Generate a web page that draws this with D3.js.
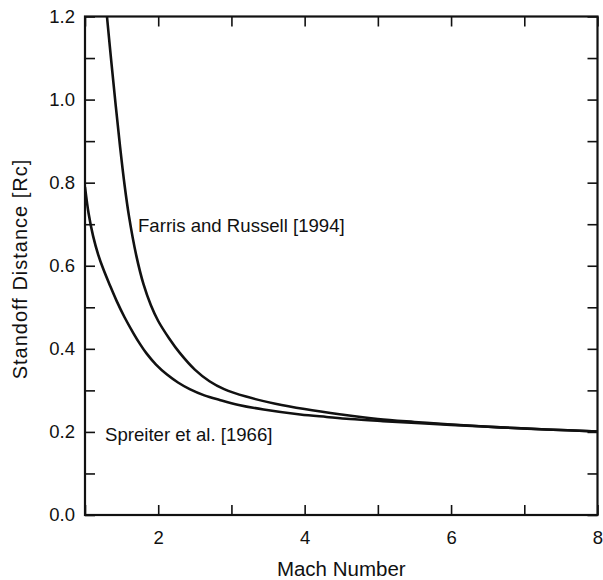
<!DOCTYPE html>
<html>
<head>
<meta charset="utf-8">
<script src="https://cdn.jsdelivr.net/npm/d3@7"></script>
<style>
  body { margin: 0; background: #fff; }
  svg text { font-family: "Liberation Sans", Arial, Helvetica, sans-serif; fill: #111; }
  .axis path { display: none; }
  .axis line { stroke: #111; stroke-width: 1.6; }
  .axis text { font-size: 18.5px; }
</style>
</head>
<body>
<div id="chart"></div>
<script>
/* CONSTANTS AND GLOBALS */
const width = 603,
  height = 580,
  margin = { top: 16.5, bottom: 65, left: 85, right: 5.5 };

// values (Mach number, standoff distance in Rc)
const farrisMach = [1.29, 1.30, 1.36, 1.42, 1.48, 1.54, 1.60, 1.70, 1.80, 1.90, 2.00, 2.15, 2.30, 2.50, 2.70, 2.90, 3.20, 3.60, 4.00, 4.50, 5.00, 5.50, 6.00, 6.67, 7.30, 8.00];
const farrisDist = [1.22, 1.20, 1.09, 0.985, 0.885, 0.795, 0.72, 0.625, 0.555, 0.505, 0.467, 0.425, 0.389, 0.350, 0.322, 0.303, 0.285, 0.268, 0.255, 0.242, 0.231, 0.224, 0.218, 0.211, 0.206, 0.201];

const spreiterMach = [1.00, 1.05, 1.11, 1.18, 1.25, 1.34, 1.43, 1.54, 1.66, 1.75, 1.84, 1.97, 2.12, 2.27, 2.43, 2.63, 2.84, 3.10, 3.44, 3.94, 4.30, 4.62, 5.07, 6.00, 6.67, 7.30, 8.00];
const spreiterDist = [0.79, 0.725, 0.672, 0.627, 0.592, 0.553, 0.516, 0.476, 0.438, 0.412, 0.389, 0.362, 0.338, 0.319, 0.303, 0.288, 0.277, 0.265, 0.254, 0.242, 0.236, 0.231, 0.226, 0.217, 0.211, 0.206, 0.201];

const xTicks = [1, 2, 3, 4, 5, 6, 7, 8];
const xLabels = [2, 4, 6, 8];
const yTicks = [0, 0.1, 0.2, 0.3, 0.4, 0.5, 0.6, 0.7, 0.8, 0.9, 1.0, 1.1, 1.2];
const yLabels = [0, 0.2, 0.4, 0.6, 0.8, 1.0, 1.2];

const farris = farrisMach.map((m, i) => ({ m: m, d: farrisDist[i] }));
const spreiter = spreiterMach.map((m, i) => ({ m: m, d: spreiterDist[i] }));

/* SCALES */
const xScale = d3.scaleLinear()
  .domain([1, 8])
  .range([margin.left, width - margin.right]);

const yScale = d3.scaleLinear()
  .domain([0, 1.2])
  .range([height - margin.bottom, margin.top]);

const svg = d3.select("#chart")
  .append("svg")
  .attr("width", width)
  .attr("height", height);

// clip so the curve leaving the top edge is cut off
svg.append("clipPath")
  .attr("id", "plot-clip")
  .append("rect")
  .attr("x", margin.left)
  .attr("y", margin.top)
  .attr("width", width - margin.left - margin.right)
  .attr("height", height - margin.top - margin.bottom);

/* AXES - ticks point inward on all four sides */
const tickLen = 10;
const fmtX = d => xLabels.includes(d) ? d3.format("d")(d) : "";
const fmtY = d => yLabels.some(v => Math.abs(v - d) < 1e-6) ? d3.format(".1f")(d) : "";

svg.append("g")
  .attr("class", "axis x-axis")
  .attr("transform", `translate(0,${height - margin.bottom})`)
  .call(d3.axisBottom(xScale).tickValues(xTicks).tickFormat(fmtX)
    .tickSizeInner(-tickLen).tickSizeOuter(0).tickPadding(16));

svg.append("g")
  .attr("class", "axis x-axis-top")
  .attr("transform", `translate(0,${margin.top})`)
  .call(d3.axisTop(xScale).tickValues(xTicks).tickFormat("")
    .tickSizeInner(-tickLen).tickSizeOuter(0));

svg.append("g")
  .attr("class", "axis y-axis")
  .attr("transform", `translate(${margin.left},0)`)
  .call(d3.axisLeft(yScale).tickValues(yTicks).tickFormat(fmtY)
    .tickSizeInner(-tickLen).tickSizeOuter(0).tickPadding(10));

svg.append("g")
  .attr("class", "axis y-axis-right")
  .attr("transform", `translate(${width - margin.right},0)`)
  .call(d3.axisRight(yScale).tickValues(yTicks).tickFormat("")
    .tickSizeInner(-tickLen).tickSizeOuter(0));

// frame
svg.append("rect")
  .attr("x", margin.left)
  .attr("y", margin.top)
  .attr("width", width - margin.left - margin.right)
  .attr("height", height - margin.top - margin.bottom)
  .attr("fill", "none")
  .attr("stroke", "#111")
  .attr("stroke-width", 2.2);

/* CURVES */
const line = d3.line()
  .x(d => xScale(d.m))
  .y(d => yScale(d.d))
  .curve(d3.curveCatmullRom.alpha(0.5));

svg.append("g")
  .attr("clip-path", "url(#plot-clip)")
  .selectAll("path")
  .data([farris, spreiter])
  .join("path")
  .attr("d", line)
  .attr("fill", "none")
  .attr("stroke", "#111")
  .attr("stroke-width", 2.6);

/* LABELS */
svg.append("text")
  .attr("x", 138)
  .attr("y", 232)
  .attr("font-size", "18.6px")
  .text("Farris and Russell [1994]");

svg.append("text")
  .attr("x", 105)
  .attr("y", 441)
  .attr("font-size", "18.6px")
  .text("Spreiter et al. [1966]");

svg.append("text")
  .attr("class", "axis-label")
  .attr("x", (margin.left + width - margin.right) / 2)
  .attr("y", 576)
  .attr("text-anchor", "middle")
  .attr("font-size", "20.5px")
  .text("Mach Number");

svg.append("text")
  .attr("class", "axis-label")
  .attr("transform", "translate(26.5,269) rotate(-90)")
  .attr("text-anchor", "middle")
  .attr("font-size", "20px")
  .attr("letter-spacing", "1px")
  .text("Standoff Distance [Rc]");
</script>
</body>
</html>
